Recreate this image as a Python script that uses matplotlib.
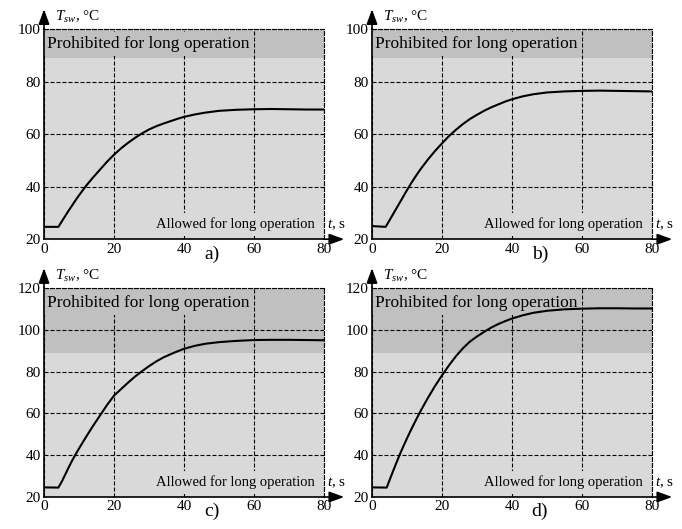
"""
plot.py — Switch temperature T_sw versus time for four load cases (a-d),
with the "prohibited" band above ~89 °C shaded darker.
"""
import matplotlib.pyplot as plt

# ── Fonts (Times-like serif everywhere, mathtext too) ────────────────────────
plt.rcParams["font.family"] = "Liberation Serif"
plt.rcParams["mathtext.fontset"] = "custom"
plt.rcParams["mathtext.rm"] = "Liberation Serif"
plt.rcParams["mathtext.it"] = "Liberation Serif:italic"

# ── Data ─────────────────────────────────────────────────────────────────────
TIME_A = [0, 4.1, 5, 6, 7, 8, 9, 10, 11, 12, 13, 14, 16, 18, 20, 22, 24, 26, 28,
          30, 32, 34, 36, 38, 40, 43, 46, 50, 55, 60, 65, 70, 75, 80]
TEMP_A = [24.7, 24.7, 26.6, 28.7, 30.8, 32.8, 34.8, 36.7, 38.5, 40.3, 41.9, 43.5,
          46.5, 49.5, 52.2, 54.6, 56.7, 58.6, 60.3, 61.8, 63.0, 64.0, 64.9, 65.8,
          66.6, 67.5, 68.2, 68.9, 69.3, 69.5, 69.6, 69.5, 69.4, 69.4]

TIME_B = [0, 3.9, 5, 6, 7, 8, 9, 10, 11, 12, 13, 14, 16, 18, 20, 22, 24, 26, 28,
          30, 32, 34, 36, 38, 40, 43, 46, 50, 55, 60, 65, 70, 75, 80]
TEMP_B = [25.0, 24.7, 27.2, 29.5, 31.8, 34.1, 36.4, 38.7, 40.9, 43.0, 45.0, 46.9,
          50.4, 53.6, 56.5, 59.3, 61.7, 63.9, 65.8, 67.4, 68.9, 70.2, 71.3, 72.4,
          73.3, 74.4, 75.2, 75.9, 76.3, 76.5, 76.6, 76.5, 76.4, 76.3]

TIME_C = [0, 4.1, 5, 6, 7, 8, 9, 10, 12, 14, 16, 18, 20, 22, 24, 26, 28, 30, 32,
          34, 36, 38, 40, 43, 46, 50, 55, 60, 65, 70, 75, 80]
TEMP_C = [24.6, 24.5, 27.1, 30.5, 34.0, 37.3, 40.3, 43.2, 48.7, 54.0, 59.0, 64.0,
          68.5, 71.6, 74.7, 77.6, 80.2, 82.6, 84.8, 86.7, 88.2, 89.6, 90.9, 92.3,
          93.3, 94.1, 94.7, 95.1, 95.2, 95.2, 95.1, 95.0]

TIME_D = [0, 4.2, 5, 6, 7, 8, 9, 10, 11, 12, 13, 14, 16, 18, 20, 22, 24, 26, 28,
          30, 32, 34, 36, 38, 40, 43, 46, 50, 55, 60, 65, 70, 75, 80]
TEMP_D = [24.6, 24.5, 28.0, 32.3, 36.5, 40.6, 44.4, 48.1, 51.6, 55.0, 58.3, 61.5,
          67.5, 73.1, 78.2, 83.0, 87.4, 91.2, 94.4, 96.8, 99.0, 101.0, 102.7,
          104.1, 105.4, 106.9, 108.1, 109.1, 109.8, 110.1, 110.3, 110.3, 110.2,
          110.2]

PANEL_LABELS = ["a)", "b)", "c)", "d)"]
Y_TOPS = [100, 100, 120, 120]
X_TICKS = [0, 20, 40, 60, 80]
Y_TICKS_LOW = [20, 40, 60, 80, 100]
Y_TICKS_HIGH = [20, 40, 60, 80, 100, 120]
LIMIT_TEMP = 89  # start of the "prohibited" band

# ── Style ────────────────────────────────────────────────────────────────────
LIGHT = "#d9d9d9"
DARK = "#c0c0c0"
DASH = (0, (3.6, 1.8))
W, H = 682, 529

# axes rectangles in pixels: left, top, width, height
BOXES = [(44, 29.2, 280, 210), (372, 29.2, 280, 210),
         (44, 288, 280, 209), (372, 288, 280, 209)]


def draw_panel(fig, box, t, temp, ytop, yticks, label):
    left, top, width, height = box
    ax = fig.add_axes([left / W, (H - top - height) / H, width / W, height / H])
    ax.set_facecolor(LIGHT)
    ax.axhspan(LIMIT_TEMP, ytop, color=DARK, lw=0, zorder=1)

    ax.set_xlim(0, 80)
    ax.set_ylim(20, ytop)
    ax.set_xticks(X_TICKS)
    ax.set_yticks(yticks)
    ax.tick_params(length=0, labelsize=11, pad=2.5)

    ax.set_axisbelow("line")
    ax.grid(True, color="k", linestyle=DASH, linewidth=0.8)

    ax.plot(t, temp, color="k", lw=1.5, zorder=4)

    for side in ["left", "bottom"]:
        ax.spines[side].set_linewidth(1.2)
        ax.spines[side].set_zorder(5)
    for side in ["top", "right"]:
        ax.spines[side].set_linestyle(DASH)
        ax.spines[side].set_linewidth(0.8)
        ax.spines[side].set_zorder(5)

    ax.text(0.012, 0.93, "Prohibited for long operation", transform=ax.transAxes,
            fontsize=12.5, ha="left", va="center", zorder=3,
            bbox=dict(boxstyle="square,pad=0.25", fc=DARK, ec="none"))
    ax.text(0.968, 0.07, "Allowed for long operation", transform=ax.transAxes,
            fontsize=10.5, ha="right", va="center", zorder=3,
            bbox=dict(boxstyle="square,pad=0.3", fc=LIGHT, ec="none"))

    # axis arrows
    head = "-|>,head_length=0.6,head_width=0.22"
    ax.annotate("", xy=(0, 1.095), xytext=(0, 1), xycoords="axes fraction",
                arrowprops=dict(arrowstyle=head, color="k", lw=1.2,
                                mutation_scale=15, shrinkA=0, shrinkB=0),
                annotation_clip=False)
    ax.annotate("", xy=(1.072, 0), xytext=(1, 0), xycoords="axes fraction",
                arrowprops=dict(arrowstyle=head, color="k", lw=1.2,
                                mutation_scale=15, shrinkA=0, shrinkB=0),
                annotation_clip=False)

    ax.text(0.04, 1.06, r"$T_{sw}$, °C", transform=ax.transAxes, fontsize=11,
            ha="left", va="center")
    ax.text(1.012, 0.07, r"$t$, s", transform=ax.transAxes, fontsize=11,
            ha="left", va="center")
    ax.text(0.6, -0.07, label, transform=ax.transAxes, fontsize=14,
            ha="center", va="center")
    return ax


def run():
    fig = plt.figure(figsize=(W / 100, H / 100), dpi=100)
    series = [(TIME_A, TEMP_A), (TIME_B, TEMP_B), (TIME_C, TEMP_C), (TIME_D, TEMP_D)]
    for i, (t, temp) in enumerate(series):
        yticks = Y_TICKS_LOW if Y_TOPS[i] == 100 else Y_TICKS_HIGH
        draw_panel(fig, BOXES[i], t, temp, Y_TOPS[i], yticks, PANEL_LABELS[i])
    fig.savefig("out.png", dpi=100)
    plt.close("all")


if __name__ == "__main__":
    run()
